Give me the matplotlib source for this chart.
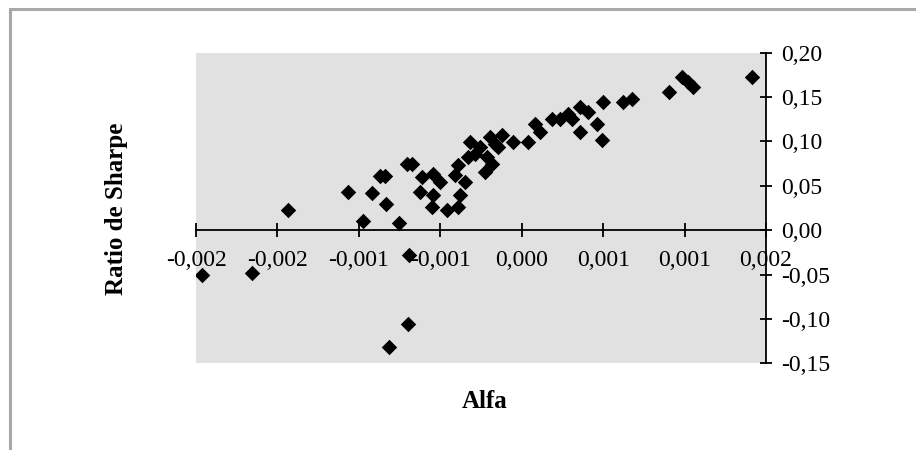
import numpy as np
import matplotlib
matplotlib.use('Agg')
import matplotlib.pyplot as plt
from matplotlib.ticker import FixedLocator, FuncFormatter
from matplotlib.patches import Rectangle

# Alfa (x) and Ratio de Sharpe (y)
alfa = [-0.001965, -0.001658, -0.001433, -0.001065, -0.000973, -0.000921,
        -0.000870, -0.000839, -0.000833, -0.000752, -0.000706, -0.000675,
        -0.000690, -0.000700, -0.000813, -0.000624, -0.000614, -0.000543,
        -0.000502, -0.000543, -0.000553, -0.000461, -0.000389, -0.000379,
        -0.000348, -0.000410, -0.000393, -0.000328, -0.000317, -0.000256,
        -0.000287, -0.000225, -0.000184, -0.000215, -0.000195, -0.000123,
        -0.000144, -0.000164, -0.000052, 0.000041, 0.000082, 0.000112,
        0.000184, 0.000235, 0.000286, 0.000307, 0.000358, 0.000409,
        0.000358, 0.000461, 0.000491, 0.000501, 0.000624, 0.000675,
        0.000906, 0.000982, 0.001023, 0.001054, 0.001412]
sharpe = [-0.0507, -0.0481, 0.0225, 0.0432, 0.0105, 0.0414,
          0.0609, 0.0609, 0.0301, 0.0076, 0.0752, 0.0752,
          -0.0274, -0.1059, -0.1315, 0.0432, 0.0601, 0.0639,
          0.0544, 0.0394, 0.0263, 0.0225, 0.0263, 0.0394,
          0.0544, 0.0620, 0.0732, 0.0826, 0.0995, 0.0939,
          0.0864, 0.0657, 0.0752, 0.0826, 0.1051, 0.1071,
          0.0939, 0.0977, 0.0995, 0.0995, 0.1202, 0.1108,
          0.1259, 0.1259, 0.1315, 0.1259, 0.1389, 0.1333,
          0.1108, 0.1202, 0.1022, 0.1446, 0.1446, 0.1484,
          0.1558, 0.1728, 0.1671, 0.1615, 0.1728]

x_ticks = [-0.002, -0.0015, -0.001, -0.0005, 0.0, 0.0005, 0.001, 0.0015]
x_tick_labels = ['-0,002', '-0,002', '-0,001', '-0,001', '0,000', '0,001', '0,001', '0,002']
y_ticks = [-0.15, -0.10, -0.05, 0.0, 0.05, 0.10, 0.15, 0.20]

plt.rcParams['font.family'] = ['Liberation Serif', 'DejaVu Serif']

fig = plt.figure(figsize=(9.16, 4.5), dpi=100)
ax = fig.add_axes([0.214, 0.1927, 0.6223, 0.690])
ax.set_facecolor('#e1e1e1')

ax.scatter(alfa, sharpe, marker='D', s=62, color='black', linewidths=0, zorder=3)

ax.set_xlim(-0.002, 0.0015)
ax.set_ylim(-0.15, 0.20)

# Excel-like axes: x axis crossing at 0, y axis on the right
ax.spines['left'].set_visible(False)
ax.spines['top'].set_visible(False)
ax.spines['bottom'].set_position(('data', 0))
for s in ('bottom', 'right'):
    ax.spines[s].set_linewidth(1.3)
    ax.spines[s].set_zorder(2)

ax.xaxis.set_major_locator(FixedLocator(x_ticks))
ax.set_xticklabels(x_tick_labels)
ax.yaxis.set_major_locator(FixedLocator(y_ticks))
ax.yaxis.set_major_formatter(FuncFormatter(lambda v, p: f'{v:.2f}'.replace('.', ',')))
ax.yaxis.tick_right()
ax.tick_params(axis='x', direction='inout', length=10, width=1.3, labelsize=17, pad=9)
ax.tick_params(axis='y', direction='inout', length=9, width=1.3, labelsize=17, pad=6)

fig.text(117 / 916, 1 - 209 / 450, 'Ratio de Sharpe', rotation=90, ha='center', va='center',
         fontsize=18, fontweight='bold')
fig.text(485 / 916, 1 - 402 / 450, 'Alfa', ha='center', va='center',
         fontsize=18, fontweight='bold')

# outer frame
fig.patches.append(Rectangle((10 / 916, -0.1), 1.2, 1 - 9.5 / 450 + 0.1, transform=fig.transFigure,
                             fill=False, edgecolor='#a8a8a8', linewidth=2.2))

fig.savefig('out.png', dpi=100)
